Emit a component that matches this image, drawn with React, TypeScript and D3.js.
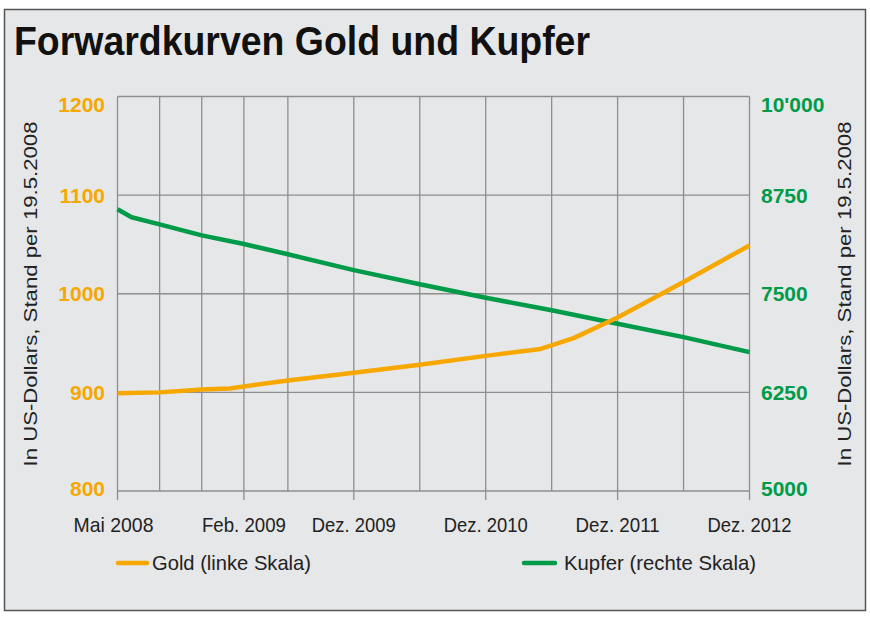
import React from 'react';
import * as d3 from 'd3';

// months after Mai 2008
const goldMonths = [0, 3, 6, 8, 9, 13, 19, 25, 31, 36, 39, 43, 49, 55];
const goldPrices = [899, 900, 903, 904, 906, 912, 920, 928, 937, 944, 955, 976, 1012, 1049];
const copperMonths = [0, 1, 3, 6, 9, 13, 19, 25, 31, 37, 43, 49, 55];
const copperPrices = [8570, 8470, 8380, 8240, 8130, 8000, 7800, 7620, 7450, 7290, 7120, 6950, 6760];

const gridMonths = [0, 3, 6, 9, 13, 19, 25, 31, 37, 43, 49, 55];
const labelMonths = [0, 9, 19, 31, 43, 55];
const xLabels = ['Mai 2008', 'Feb. 2009', 'Dez. 2009', 'Dez. 2010', 'Dez. 2011', 'Dez. 2012'];
const goldTicks = [800, 900, 1000, 1100, 1200];
const copperTicks = [5000, 6250, 7500, 8750, 10000];
const copperTickLabels = ['5000', '6250', '7500', '8750', "10'000"];

const W = 870;
const H = 617;
const ORANGE = '#f6a800';
const GREEN = '#009b48';
const GRID = '#8e8e8e';
const NARROW = '"Liberation Sans Narrow", "Arial Narrow", "Liberation Sans", Arial, sans-serif';
const SANS = '"Liberation Sans", Arial, Helvetica, sans-serif';

const left = 117.5;
const right = 749.5;
const top = 96.5;
const bottom = 491;

const App = () => {
  const plotW = right - left;
  // axis is stretched before Feb. 2009 (first fifth of the width)
  const x = d3.scaleLinear().domain([0, 9, 55]).range([left, left + plotW * 0.2, right]);
  const yGold = d3.scaleLinear().domain([800, 1200]).range([bottom, top]);
  const yCopper = d3.scaleLinear().domain([5000, 10000]).range([bottom, top]);

  const goldLine = d3
    .line<number>()
    .x((m) => x(m))
    .y((_, i) => yGold(goldPrices[i]));
  const copperLine = d3
    .line<number>()
    .x((m) => x(m))
    .y((_, i) => yCopper(copperPrices[i]));

  const labelY = (y: number, i: number, n: number) => (i === n - 1 ? y + 15 : i === 0 ? y + 5 : y + 7.5);

  return (
    <svg width={W} height={H} style={{ position: 'absolute', left: 0, top: 0 }}>
      <rect x={0} y={0} width={W} height={H} fill="#fff" />
      <rect x={4.5} y={9.5} width={861} height={601} fill="#e6e7e9" stroke="#555" strokeWidth={1.5} />

      <text x={14} y={55} fontFamily={NARROW} fontWeight="bold" fontSize={40} fill="#111"
        textLength={576} lengthAdjust="spacingAndGlyphs">
        Forwardkurven Gold und Kupfer
      </text>

      {/* grid */}
      {goldTicks.map((t) => (
        <line key={'h' + t} x1={left} x2={right} y1={yGold(t)} y2={yGold(t)} stroke={GRID} strokeWidth={1.4} />
      ))}
      {gridMonths.map((m) => (
        <line key={'v' + m} x1={x(m)} x2={x(m)} y1={top} y2={bottom} stroke={GRID} strokeWidth={1.3} />
      ))}
      {labelMonths.map((m) => (
        <line key={'t' + m} x1={x(m)} x2={x(m)} y1={bottom} y2={bottom + 9} stroke={GRID} strokeWidth={1.3} />
      ))}

      {/* left axis */}
      {goldTicks.map((t, i) => (
        <text key={'gl' + t} x={105} y={labelY(yGold(t), i, goldTicks.length)} textAnchor="end"
          fontFamily={SANS} fontWeight="bold" fontSize={21} fill={ORANGE}>
          {t}
        </text>
      ))}
      {/* right axis */}
      {copperTicks.map((t, i) => (
        <text key={'cl' + t} x={761} y={labelY(yCopper(t), i, copperTicks.length)} textAnchor="start"
          fontFamily={SANS} fontWeight="bold" fontSize={21} fill={GREEN}>
          {copperTickLabels[i]}
        </text>
      ))}

      {/* x labels */}
      {labelMonths.map((m, i) => (
        <text key={'xl' + m} x={x(m) - (i === 0 ? 4 : 0)} y={532} textAnchor="middle"
          fontFamily={NARROW} fontSize={21} fill="#222" textLength={i === 0 ? 80 : 84} lengthAdjust="spacingAndGlyphs">
          {xLabels[i]}
        </text>
      ))}

      {/* axis titles */}
      <text transform="translate(37,294) rotate(-90)" textAnchor="middle" fontFamily={SANS} fontSize={19}
        fill="#222" textLength={345} lengthAdjust="spacingAndGlyphs">
        In US-Dollars, Stand per 19.5.2008
      </text>
      <text transform="translate(851,294) rotate(-90)" textAnchor="middle" fontFamily={SANS} fontSize={19}
        fill="#222" textLength={345} lengthAdjust="spacingAndGlyphs">
        In US-Dollars, Stand per 19.5.2008
      </text>

      {/* series */}
      <path d={copperLine(copperMonths) || ''} fill="none" stroke={GREEN} strokeWidth={4.5} strokeLinejoin="round" />
      <path d={goldLine(goldMonths) || ''} fill="none" stroke={ORANGE} strokeWidth={4.5} strokeLinejoin="round" />

      {/* legend */}
      <line x1={118} x2={147} y1={563} y2={563} stroke={ORANGE} strokeWidth={4.5} strokeLinecap="round" />
      <text x={152} y={570} fontFamily={NARROW} fontSize={21} fill="#222" textLength={159} lengthAdjust="spacingAndGlyphs">
        Gold (linke Skala)
      </text>
      <line x1={524} x2={555} y1={563} y2={563} stroke={GREEN} strokeWidth={4.5} strokeLinecap="round" />
      <text x={564} y={570} fontFamily={NARROW} fontSize={21} fill="#222" textLength={192} lengthAdjust="spacingAndGlyphs">
        Kupfer (rechte Skala)
      </text>
    </svg>
  );
};

export default App;
